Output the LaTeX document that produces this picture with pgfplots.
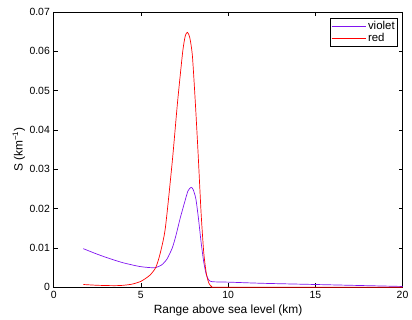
\documentclass[border=0pt]{standalone}
\usepackage{pgfplots}
\pgfplotsset{compat=1.18}
\usepackage{fontspec}
\setmainfont{Liberation Sans}
\definecolor{myviolet}{RGB}{128,20,240}
\begin{document}
\fontsize{11}{13}\selectfont
\begin{tikzpicture}
\begin{axis}[
  scale only axis,
  width=351pt, height=277pt,
  xmin=0, xmax=20, ymin=0, ymax=0.07,
  xtick={0,5,10,15,20},
  ytick={0,0.01,0.02,0.03,0.04,0.05,0.06,0.07},
  tick align=inside,
  major tick length=4pt,
  tick style={black, line width=0.5pt},
  axis line style={line width=0.8pt},
  /pgf/number format/assume math mode=true,
  yticklabel style={/pgf/number format/fixed, /pgf/number format/precision=2, font=\fontsize{10.5}{12}\selectfont, xshift=0pt},
  xticklabel style={font=\fontsize{10.5}{12}\selectfont, yshift=0pt},
  scaled y ticks=false,
  xlabel={Range above sea level (km)},
  ylabel={S (km\textsuperscript{−1})},
  label style={font=\fontsize{12}{14}\selectfont},
  xlabel style={yshift=1pt},
  ylabel style={yshift=-3pt},
  legend style={at={(0.987,0.978)}, anchor=north east, line width=0.7pt, font=\fontsize{11.5}{13}\selectfont, inner sep=1pt, row sep=-2pt},
  legend cell align=left,
  legend image code/.code={\draw[#1, line width=0.8pt] (0cm,0cm) -- (1.2cm,0cm);},
]
\addplot[myviolet, line width=0.7pt, smooth, tension=0.4] coordinates {
(1.7,0.0098) (2.5,0.0084) (3.2,0.0073) (4.0,0.0062) (4.9,0.0053) (5.5,0.0050) (5.85,0.0050)
(6.2,0.0057) (6.5,0.0072) (6.8,0.0100) (7.0,0.0130) (7.25,0.0175) (7.5,0.0215) (7.7,0.0245)
(7.88,0.0254) (8.0,0.0248) (8.15,0.0225) (8.3,0.0175) (8.45,0.0115) (8.6,0.0065) (8.75,0.0032)
(8.9,0.0018) (9.1,0.0014) (10,0.0013) (12,0.0010) (15,0.0007) (18,0.0004) (20,0.0002)
};
\addlegendentry{violet}
\addplot[red, line width=0.7pt, smooth, tension=0.4] coordinates {
(1.7,0.0007) (2.5,0.0005) (3.5,0.0004) (4.0,0.0005) (4.5,0.0008) (5.0,0.0015) (5.5,0.0030)
(5.85,0.0050) (6.1,0.0085) (6.4,0.0150) (6.8,0.0320) (7.1,0.0470) (7.4,0.0600) (7.55,0.0640)
(7.67,0.0648) (7.8,0.0635) (7.95,0.0590) (8.12,0.0470) (8.28,0.0340) (8.45,0.0190) (8.6,0.0090)
(8.75,0.0035) (8.9,0.0010) (9.05,0.0002) (9.2,0.0) (12,0.0) (20,0.0)
};
\addlegendentry{red}
\end{axis}
\path (current axis.south west) ++(-54pt,-31pt) rectangle ++(412pt,320pt);
\end{tikzpicture}
\end{document}
